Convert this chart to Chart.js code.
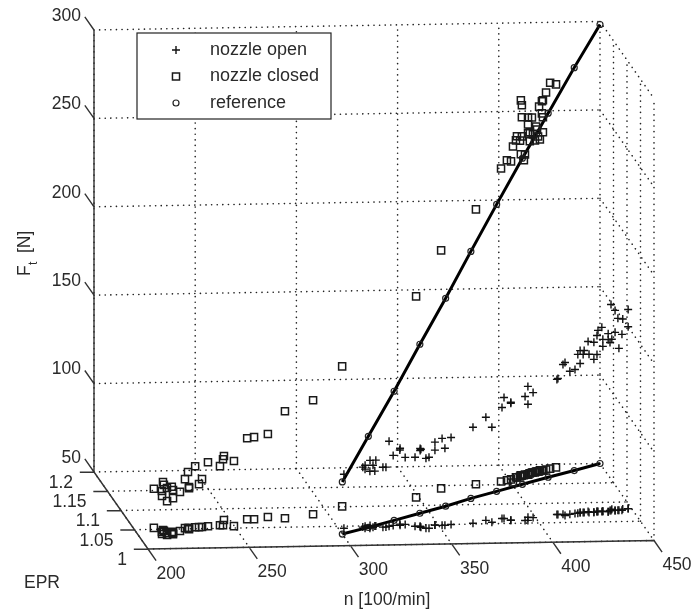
<!DOCTYPE html>
<html>
<head>
<meta charset="utf-8">
<title>Thrust over speed and EPR</title>
<script src="https://cdn.jsdelivr.net/npm/chart.js@4/dist/chart.umd.min.js"></script>
<style>
    html, body { margin: 0; padding: 0; background: #fff; }
    #wrap { width: 694px; height: 612px; }
</style>
</head>
<body>
<div id="wrap"><canvas id="chart" width="694" height="612"></canvas></div>
<script>
// Tick labels of the three axes
const nTicks = [200, 250, 300, 350, 400, 450];
const eprTicks = [1, 1.05, 1.1, 1.15, 1.2];
const ftTicks = [50, 100, 150, 200, 250, 300];

const openN = [302.8, 312.4, 313.8, 313.1, 316.5, 315.5, 317.3, 318.6, 319.1, 322.2, 323.7, 325.5, 327.8, 331.2, 331.5, 334, 338.2, 340.6, 340.6, 340.7, 342.8, 344.3, 348.3, 348.3, 351.7, 353.1, 356.4, 367.5, 374.8, 377.1, 383.3, 384.3, 387, 387, 393.9, 395.3, 396.4, 398.8,
    411.5, 412, 414.5, 415.1, 417.9, 420.7, 422.1, 423.5, 423.5, 425, 425.5, 427.7, 427.9, 430.3, 430.3, 432.1, 432.1, 432.6, 434.5, 435, 435, 437.5, 437.5, 438.8, 439.3, 440.1, 441.3, 441.3, 442.7, 443.2, 444.7, 445.5, 448.3, 448.3];
const openEpr = [1.045, 1.047, 1.049, 1.044, 1.051, 1.044, 1.046, 1.049, 1.049, 1.046, 1.046, 1.048, 1.05, 1.05, 1.053, 1.052, 1.047, 1.046, 1.046, 1.044, 1.041, 1.041, 1.049, 1.049, 1.048, 1.048, 1.05, 1.052, 1.059, 1.054, 1.063, 1.063, 1.058, 1.058, 1.057, 1.057, 1.065, 1.064,
    1.071, 1.071, 1.071, 1.068, 1.071, 1.073, 1.073, 1.075, 1.075, 1.075, 1.075, 1.077, 1.075, 1.075, 1.075, 1.077, 1.077, 1.077, 1.077, 1.077, 1.077, 1.076, 1.076, 1.079, 1.079, 1.082, 1.079, 1.079, 1.079, 1.079, 1.079, 1.082, 1.083, 1.083];
const openFt = [80.5, 83.9, 84.5, 83.4, 86.8, 82.2, 85.1, 81.1, 87.3, 83.9, 83.9, 98.1, 89.6, 93.6, 91.9, 87.9, 89, 94.1, 93, 94.1, 89.6, 90.2, 96.9, 92.4, 99.2, 93.6, 99.2, 104.3, 108.3, 103.7, 112.8, 118.4, 116.2, 116.8, 120.1, 125.8, 113.9, 120.7,
    126.4, 126.9, 134.8, 136.5, 130.9, 131.4, 139.9, 141.6, 134.3, 139.4, 141.6, 146.2, 139.4, 146.2, 136.5, 149.5, 138.8, 152.4, 154.1, 147.3, 143.3, 150.7, 147.3, 145, 166.5, 146.2, 163.1, 150.7, 158.6, 141.6, 149.5, 157.5, 162.6, 152.9];

const closedN = [210.1, 213.8, 214, 212.6, 212, 214.1, 217.3, 217.5, 214.7, 217.7, 221.8, 227.2, 226.8, 225.2, 226.7, 230.5, 232.4, 233.9, 237.1, 243.3, 244.8, 247, 249.8, 258.6, 262, 269.5, 277.4, 292.5, 309.4, 348.6, 363.9, 382.3,
    395.5, 398.8, 401.1, 401, 404.2, 404.7, 406.5, 407.3, 407.3, 407.8, 407.8, 407.8, 408.8, 409.6, 411.1, 411.1, 411.1, 412.4, 412.4, 413.7, 414.2, 415.2, 416, 416.5, 417, 417.5, 418.3, 419.3, 419.3, 419.8, 419.8, 419.8, 421.6, 423.9, 427.2];
const closedEpr = [1.054, 1.048, 1.046, 1.043, 1.038, 1.035, 1.037, 1.043, 1.04, 1.04, 1.045, 1.052, 1.049, 1.052, 1.052, 1.054, 1.054, 1.054, 1.056, 1.058, 1.058, 1.071, 1.055, 1.072, 1.072, 1.077, 1.073, 1.082, 1.101, 1.121, 1.143, 1.152,
    1.158, 1.161, 1.163, 1.155, 1.168, 1.168, 1.17, 1.173, 1.173, 1.173, 1.173, 1.173, 1.173, 1.175, 1.175, 1.175, 1.175, 1.178, 1.178, 1.18, 1.18, 1.18, 1.182, 1.182, 1.182, 1.182, 1.185, 1.185, 1.185, 1.185, 1.185, 1.185, 1.187, 1.189, 1.192];
const closedFt = [72.1, 77.1, 76, 73.2, 71.5, 69.2, 70.4, 75.5, 75.5, 74.3, 72.1, 73.2, 73.2, 77.7, 81.7, 84.5, 74.3, 77.1, 86.2, 83.4, 87.3, 86.2, 86.8, 95.8, 96.4, 96.9, 110.5, 114.5, 129.2, 163.7, 184.6, 205.5,
    227, 231, 229.9, 240, 240.6, 242.9, 240, 231.6, 262.1, 259.3, 241.7, 252.5, 228.2, 231, 251.9, 248, 242.9, 242.9, 237.8, 250.8, 241.2, 237.8, 245.1, 243.4, 239.5, 256.4, 237.2, 251.9, 258.7, 259.3, 249.7, 241.2, 263.2, 268.3, 266.6];

const refN = [300, 315, 330, 345, 360, 375, 390, 405, 420, 435, 450];
const refEpr = [1.03, 1.046, 1.063, 1.08, 1.097, 1.116, 1.133, 1.15, 1.167, 1.183, 1.2];
const refFt = [79.5, 101.5, 123, 145.6, 167.6, 189.7, 212.3, 234.4, 255.9, 277.9, 298.3];

const FONT = '17.5px "Liberation Sans", Arial, sans-serif';
const INK = '#2a2a2a';

// Orthographic view of the 3D box onto the flat x/y scales of the chart
function project(n, epr, ft) {
    const a = n - 200;
    const b = 1.2 - epr;
    return {
        x: 94 + 2.024 * a + 270 * b,
        y: 472 - 1.768 * (ft - 50) - 0.034 * a + 385 * b
    };
}

// Each measurement is plotted at its thrust, and once more on the floor of the box
function topPoints(ns, eprs, fts) {
    return ns.map((n, i) => project(n, eprs[i], fts[i]));
}

function floorPoints(ns, eprs) {
    return ns.map((n, i) => project(n, eprs[i], ftTicks[0]));
}

// Joins 3D segments into one dataset, NaN breaks the line between them
function segmentPoints(segments) {
    const points = [];
    segments.forEach(seg => {
        points.push(project(...seg[0]), project(...seg[1]), { x: NaN, y: NaN });
    });
    return points;
}

const nMin = nTicks[0], nMax = nTicks[nTicks.length - 1];
const eprMin = eprTicks[0], eprMax = eprTicks[eprTicks.length - 1];
const ftMin = ftTicks[0], ftMax = ftTicks[ftTicks.length - 1];

const gridSegments = [];
ftTicks.forEach(f => {
    gridSegments.push([[nMin, eprMax, f], [nMax, eprMax, f]]);
    gridSegments.push([[nMax, eprMax, f], [nMax, eprMin, f]]);
});
nTicks.forEach(n => {
    gridSegments.push([[n, eprMax, ftMin], [n, eprMax, ftMax]]);
    gridSegments.push([[n, eprMax, ftMin], [n, eprMin, ftMin]]);
});
eprTicks.forEach(e => {
    gridSegments.push([[nMin, e, ftMin], [nMax, e, ftMin]]);
    gridSegments.push([[nMax, e, ftMin], [nMax, e, ftMax]]);
});

const axisSegments = [
    [[nMin, eprMax, ftMin], [nMin, eprMax, ftMax]],
    [[nMin, eprMax, ftMin], [nMin, eprMin, ftMin]],
    [[nMin, eprMin, ftMin], [nMax, eprMin, ftMin]]
];
ftTicks.forEach(f => axisSegments.push([[nMin, eprMax, f], [nMin, eprMax + 0.034, f]]));
eprTicks.forEach(e => axisSegments.push([[nMin, e, ftMin], [nMin - 7, e, ftMin]]));
nTicks.forEach(n => axisSegments.push([[n, eprMin, ftMin], [n, eprMin - 0.03, ftMin]]));

const plusStyle = { pointStyle: 'cross', pointRadius: 4, pointBorderWidth: 1.4, pointBorderColor: '#111', showLine: false };
const squareStyle = { pointStyle: 'rect', pointRadius: 5, pointBorderWidth: 1.5, pointBorderColor: '#1a1a1a', pointBackgroundColor: 'transparent', showLine: false };
const circleStyle = { pointStyle: 'circle', pointRadius: 3, pointBorderWidth: 1.2, pointBorderColor: '#222', pointBackgroundColor: 'transparent', showLine: true, borderColor: '#000', borderWidth: 3 };

const legendItems = [
    { label: 'nozzle open', style: plusStyle },
    { label: 'nozzle closed', style: squareStyle },
    { label: 'reference', style: circleStyle }
];

// Texts around the box and the legend go on top of the datasets
const boxTextPlugin = {
    id: 'boxText',
    afterDatasetsDraw(chart) {
        const { ctx, scales } = chart;
        const px = scales.x, py = scales.y;

        function put(text, x, y, align) {
            ctx.textAlign = align;
            ctx.fillText(text, px.getPixelForValue(x), py.getPixelForValue(y));
        }

        ctx.save();
        ctx.font = FONT;
        ctx.fillStyle = INK;
        ctx.textBaseline = 'middle';

        ftTicks.forEach(f => {
            const p = project(nMin, eprMax, f);
            put(String(f), p.x - 13, p.y - 14, 'right');
        });
        eprTicks.forEach(e => {
            const p = project(nMin, e, ftMin);
            put(String(e), p.x - 21, p.y + 11, 'right');
        });
        nTicks.forEach(n => {
            const p = project(n, eprMin, ftMin);
            put(String(n), p.x + 23, p.y + 25, 'center');
        });
        put('EPR', 42, 583, 'center');
        put('n [100/min]', 387, 600, 'center');

        // rotated thrust label with its subscript
        ctx.translate(px.getPixelForValue(30), py.getPixelForValue(276));
        ctx.rotate(-Math.PI / 2);
        ctx.textAlign = 'left';
        ctx.textBaseline = 'alphabetic';
        ctx.fillText('F', 0, 0);
        ctx.font = '12px "Liberation Sans", Arial, sans-serif';
        ctx.fillText('t', 11, 7);
        ctx.font = FONT;
        ctx.fillText('[N]', 23, 0);
        ctx.restore();

        // legend box
        ctx.save();
        const left = px.getPixelForValue(137), right = px.getPixelForValue(331);
        const top = py.getPixelForValue(33), bottom = py.getPixelForValue(119);
        ctx.fillStyle = '#fff';
        ctx.strokeStyle = '#222';
        ctx.lineWidth = 1.2;
        ctx.fillRect(left, top, right - left, bottom - top);
        ctx.strokeRect(left, top, right - left, bottom - top);
        legendItems.forEach((item, i) => {
            const y = top + 17 + i * 26.5;
            ctx.strokeStyle = item.style.pointBorderColor;
            ctx.lineWidth = item.style.pointBorderWidth;
            ctx.fillStyle = '#fff';
            Chart.helpers.drawPoint(ctx, {
                pointStyle: item.style.pointStyle,
                radius: item.style.pointRadius,
                borderWidth: item.style.pointBorderWidth
            }, left + 39, y);
            ctx.fillStyle = INK;
            ctx.font = '18px "Liberation Sans", Arial, sans-serif';
            ctx.textAlign = 'left';
            ctx.textBaseline = 'middle';
            ctx.fillText(item.label, left + 73, y);
        });
        ctx.restore();
    }
};

new Chart(document.getElementById('chart'), {
    type: 'scatter',
    data: {
        datasets: [
            { label: 'nozzle open', data: topPoints(openN, openEpr, openFt), ...plusStyle },
            { label: 'nozzle open floor', data: floorPoints(openN, openEpr), ...plusStyle },
            { label: 'nozzle closed', data: topPoints(closedN, closedEpr, closedFt), ...squareStyle },
            { label: 'nozzle closed floor', data: floorPoints(closedN, closedEpr), ...squareStyle },
            { label: 'reference', data: topPoints(refN, refEpr, refFt), ...circleStyle },
            { label: 'reference floor', data: floorPoints(refN, refEpr), ...circleStyle },
            { label: 'axes', data: segmentPoints(axisSegments), showLine: true, pointRadius: 0, borderColor: '#333', borderWidth: 1.4 },
            { label: 'grid', data: segmentPoints(gridSegments), showLine: true, pointRadius: 0, borderColor: '#222', borderWidth: 1.6, borderCapStyle: 'round', borderDash: [0.1, 5.5] }
        ]
    },
    options: {
        responsive: false,
        animation: false,
        layout: { padding: 0, autoPadding: false },
        plugins: { legend: { display: false }, tooltip: { enabled: false } },
        scales: {
            x: { type: 'linear', display: false, min: 0, max: 694 },
            y: { type: 'linear', display: false, min: 0, max: 612, reverse: true }
        }
    },
    plugins: [boxTextPlugin]
});
</script>
</body>
</html>
